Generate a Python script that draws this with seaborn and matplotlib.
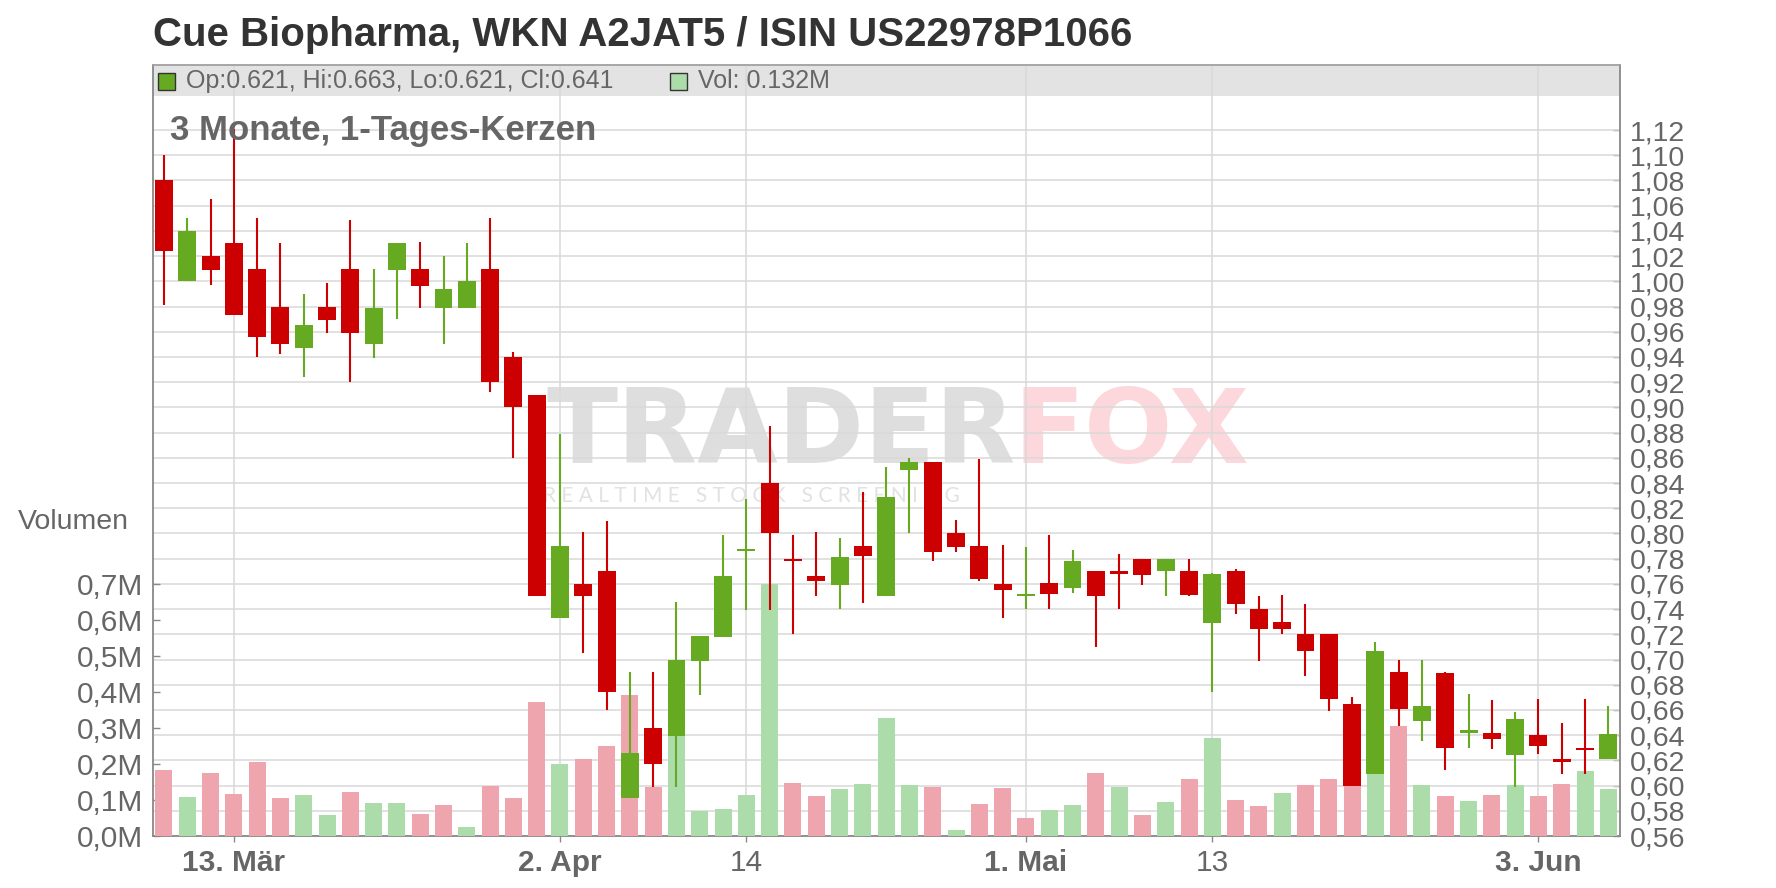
import matplotlib
matplotlib.use("Agg")
import matplotlib.pyplot as plt
import seaborn as sns
import pandas as pd
from matplotlib.patches import Rectangle

# ---------------- data ----------------
title = "Cue Biopharma, WKN A2JAT5 / ISIN US22978P1066"
subtitle = "3 Monate, 1-Tages-Kerzen"
legend_ohlc = "Op:0.621, Hi:0.663, Lo:0.621, Cl:0.641"
legend_vol = "Vol: 0.132M"
vol_axis_title = "Volumen"

opens = [1.080, 1.000, 1.020, 1.030, 1.010, 0.980, 0.947, 0.980, 1.010, 0.950,
         1.009, 1.010, 0.979, 0.979, 1.010, 0.940, 0.910, 0.733, 0.760, 0.770,
         0.590, 0.646, 0.639, 0.699, 0.718, 0.786, 0.840, 0.780, 0.766, 0.759,
         0.790, 0.750, 0.850, 0.857, 0.800, 0.790, 0.760, 0.750, 0.761, 0.757,
         0.770, 0.770, 0.780, 0.770, 0.770, 0.729, 0.770, 0.740, 0.730, 0.720,
         0.720, 0.665, 0.609, 0.690, 0.651, 0.689, 0.642, 0.642, 0.624, 0.640,
         0.621, 0.630, 0.621]
highs = [1.100, 1.050, 1.065, 1.121, 1.050, 1.030, 0.990, 0.999, 1.049, 1.010,
         1.030, 1.031, 1.020, 1.030, 1.050, 0.944, 0.910, 0.879, 0.801, 0.810,
         0.690, 0.690, 0.746, 0.719, 0.799, 0.827, 0.885, 0.799, 0.801, 0.796,
         0.833, 0.853, 0.860, 0.857, 0.811, 0.859, 0.791, 0.789, 0.799, 0.787,
         0.770, 0.784, 0.780, 0.780, 0.780, 0.769, 0.772, 0.750, 0.751, 0.744,
         0.720, 0.670, 0.714, 0.700, 0.700, 0.690, 0.673, 0.668, 0.658, 0.669,
         0.650, 0.669, 0.663]
lows = [0.981, 1.000, 0.997, 0.973, 0.940, 0.942, 0.924, 0.959, 0.920, 0.939,
        0.970, 0.979, 0.950, 0.979, 0.912, 0.860, 0.750, 0.733, 0.705, 0.660,
        0.590, 0.599, 0.599, 0.672, 0.718, 0.739, 0.739, 0.720, 0.750, 0.740,
        0.745, 0.750, 0.800, 0.778, 0.785, 0.762, 0.733, 0.740, 0.740, 0.753,
        0.710, 0.740, 0.759, 0.750, 0.750, 0.674, 0.736, 0.699, 0.720, 0.687,
        0.659, 0.600, 0.609, 0.647, 0.635, 0.612, 0.630, 0.629, 0.599, 0.625,
        0.609, 0.609, 0.621]
closes = [1.024, 1.040, 1.009, 0.973, 0.956, 0.950, 0.965, 0.969, 0.959, 0.979,
          1.030, 0.996, 0.994, 1.000, 0.920, 0.900, 0.750, 0.790, 0.750, 0.674,
          0.626, 0.617, 0.700, 0.719, 0.766, 0.788, 0.800, 0.778, 0.762, 0.781,
          0.782, 0.829, 0.857, 0.785, 0.789, 0.764, 0.755, 0.752, 0.752, 0.778,
          0.750, 0.768, 0.767, 0.780, 0.751, 0.768, 0.744, 0.724, 0.724, 0.707,
          0.669, 0.600, 0.707, 0.661, 0.663, 0.630, 0.644, 0.637, 0.653, 0.631,
          0.619, 0.628, 0.641]
volumes_m = [0.184, 0.108, 0.175, 0.117, 0.206, 0.106, 0.114, 0.058, 0.122, 0.092,
             0.092, 0.061, 0.086, 0.025, 0.139, 0.106, 0.373, 0.200, 0.214, 0.250,
             0.392, 0.136, 0.278, 0.070, 0.075, 0.114, 0.701, 0.147, 0.111, 0.131,
             0.145, 0.328, 0.142, 0.136, 0.017, 0.089, 0.134, 0.050, 0.072, 0.086,
             0.175, 0.136, 0.058, 0.095, 0.159, 0.273, 0.100, 0.083, 0.120, 0.142,
             0.159, 0.142, 0.172, 0.306, 0.142, 0.111, 0.097, 0.114, 0.142, 0.111,
             0.145, 0.181, 0.132]
volume_dir = ["down", "up", "down", "down", "down", "down", "up", "up", "down", "up",
              "up", "down", "down", "up", "down", "down", "down", "up", "down", "down",
              "down", "down", "up", "up", "up", "up", "up", "down", "down", "up",
              "up", "up", "up", "down", "up", "down", "down", "down", "up", "up",
              "down", "up", "down", "up", "down", "up", "down", "down", "up", "down",
              "down", "down", "up", "down", "up", "down", "up", "down", "up", "down",
              "down", "up", "up"]

x_tick_pos = [3, 17, 25, 37, 45, 59]
x_tick_labels = ["13. Mär", "2. Apr", "14", "1. Mai", "13", "3. Jun"]
x_tick_bold = [True, True, False, True, False, True]

price_ticks = [0.56, 0.58, 0.60, 0.62, 0.64, 0.66, 0.68, 0.70, 0.72, 0.74, 0.76,
               0.78, 0.80, 0.82, 0.84, 0.86, 0.88, 0.90, 0.92, 0.94, 0.96, 0.98,
               1.00, 1.02, 1.04, 1.06, 1.08, 1.10, 1.12]
price_tick_labels = ["0,56", "0,58", "0,60", "0,62", "0,64", "0,66", "0,68", "0,70",
                     "0,72", "0,74", "0,76", "0,78", "0,80", "0,82", "0,84", "0,86",
                     "0,88", "0,90", "0,92", "0,94", "0,96", "0,98", "1,00", "1,02",
                     "1,04", "1,06", "1,08", "1,10", "1,12"]
vol_ticks = [0.0, 0.1, 0.2, 0.3, 0.4, 0.5, 0.6, 0.7]
vol_tick_labels = ["0,0M", "0,1M", "0,2M", "0,3M", "0,4M", "0,5M", "0,6M", "0,7M"]

# ---------------- style ----------------
UP, DOWN = "#66aa22", "#cc0000"
VOL_UP, VOL_DOWN = "#acdcaa", "#eea5ad"
GRID = "#d9d9d9"
AXIS = "#888888"
TXT = "#666666"

sns.set_theme(style="white")
plt.rcParams["font.family"] = ["Liberation Sans", "DejaVu Sans"]

W, H = 1776, 888
fig = plt.figure(figsize=(W / 100, H / 100), dpi=100)
L, R, T, B = 153, 1620, 65, 836
rect = [L / W, 1 - B / H, (R - L) / W, (B - T) / H]

ax = fig.add_axes(rect)
ax_v = ax.twinx()
ax_c = ax.twinx()

n = len(opens)
idx = list(range(n))
xlim = (-0.47, n - 0.5)
price_lim = (0.56, 0.56 + (B - T) / 1260.7)
vol_lim = (0.0, (B - T) / 359.5)

# base layer: band, watermark, grid
ax.set_facecolor("white")
ax.add_patch(Rectangle((0, (B - 96) / (B - T)), 1, 1 - (B - 96) / (B - T),
                       transform=ax.transAxes, facecolor="#e3e3e3", edgecolor="none", zorder=0.2))
for t in price_ticks:
    ax.axhline(t, color=GRID, lw=1.1, zorder=0.8)
for p in x_tick_pos:
    ax.axvline(p, color=GRID, lw=1.1, zorder=0.8)

ax.text(546 / W, 1 - 463 / H, "TRADER", transform=fig.transFigure, fontsize=75,
        fontweight="bold", family=["DejaVu Sans"], color="#dedede", zorder=0.5)
ax.text(1013 / W, 1 - 463 / H, "FOX", transform=fig.transFigure, fontsize=75,
        fontweight="bold", family=["DejaVu Sans"], color="#fcd8dc", zorder=0.5)
ax.text(543 / W, 1 - 502 / H, "R E A L T I M E   S T O C K   S C R E E N I N G",
        transform=fig.transFigure, fontsize=15, family=["Lato", "DejaVu Sans"],
        color="#e2e2e2", zorder=0.5)

# volume layer (seaborn)
df_vol = pd.DataFrame({"idx": idx, "vol": volumes_m, "dir": volume_dir})
sns.barplot(data=df_vol, x="idx", y="vol", hue="dir",
            palette={"up": VOL_UP, "down": VOL_DOWN}, native_scale=True,
            width=0.73, dodge=False, errorbar=None, legend=False, saturation=1,
            linewidth=0, ax=ax_v)

# candle layer
cols = [UP if c >= o else DOWN for o, c in zip(opens, closes)]
bottoms = [min(o, c) for o, c in zip(opens, closes)]
heights = [max(abs(c - o), 0.0018) for o, c in zip(opens, closes)]
ax_c.vlines(idx, lows, highs, colors=cols, lw=1.5, zorder=2)
ax_c.bar(idx, heights, bottom=bottoms, width=0.77, color=cols, linewidth=0, zorder=3)

# limits
for a in (ax, ax_v, ax_c):
    a.set_xlim(*xlim)
ax.set_ylim(*price_lim)
ax_c.set_ylim(*price_lim)
ax_v.set_ylim(*vol_lim)

# axes / ticks
ax.set_xticks(x_tick_pos, x_tick_labels)
ax.tick_params(axis="x", bottom=True, length=4, width=1, color=AXIS, direction="out",
               labelsize=21.5, labelcolor=TXT, pad=5)
for lbl, bold in zip(ax.get_xticklabels(), x_tick_bold):
    lbl.set_fontweight("bold" if bold else "normal")

ax.set_yticks(price_ticks, price_tick_labels)
ax.yaxis.tick_right()
ax.tick_params(axis="y", right=True, left=False, labelright=True, labelleft=False,
               direction="in", length=5, width=1, color=AXIS, labelsize=20.5,
               labelcolor=TXT, pad=7)

ax_v.set_yticks(vol_ticks, vol_tick_labels)
ax_v.yaxis.tick_left()
ax_v.tick_params(axis="y", left=True, right=False, labelleft=True, labelright=False,
                 direction="in", length=5, width=1, color=AXIS, labelsize=21.5,
                 labelcolor=TXT, pad=7)
ax_v.set_xlabel("")
ax_v.set_ylabel("")
ax_c.set_yticks([])
ax_c.set_xlabel("")
ax_c.set_ylabel("")
ax.set_xlabel("")
ax.set_ylabel("")

for a in (ax_v, ax_c):
    for s in a.spines.values():
        s.set_visible(False)
for name, s in ax.spines.items():
    s.set_visible(True)
    s.set_color(AXIS if name != "top" else "#a0a0a0")
    s.set_linewidth(1.3)

# texts outside / overlay
fig.text(L / W, 1 - 46 / H, title, fontsize=29, fontweight="bold", color="#333333",
         va="baseline", ha="left")
fig.text(170 / W, 1 - 140 / H, subtitle, fontsize=25, fontweight="bold", color=TXT,
         va="baseline", ha="left")
fig.text(18 / W, 1 - 522 / H, vol_axis_title, fontsize=20.5, color=TXT, va="center", ha="left")

fig.add_artist(Rectangle((158 / W, 1 - 90 / H), 17 / W, 17 / H, transform=fig.transFigure,
                         facecolor=UP, edgecolor="#333333", lw=1))
fig.text(186 / W, 1 - 88 / H, legend_ohlc, fontsize=18, color=TXT, va="baseline", ha="left")
fig.add_artist(Rectangle((670 / W, 1 - 90 / H), 17 / W, 17 / H, transform=fig.transFigure,
                         facecolor=VOL_UP, edgecolor="#333333", lw=1))
fig.text(698 / W, 1 - 88 / H, legend_vol, fontsize=18, color=TXT, va="baseline", ha="left")

fig.savefig("out.png", dpi=100)
